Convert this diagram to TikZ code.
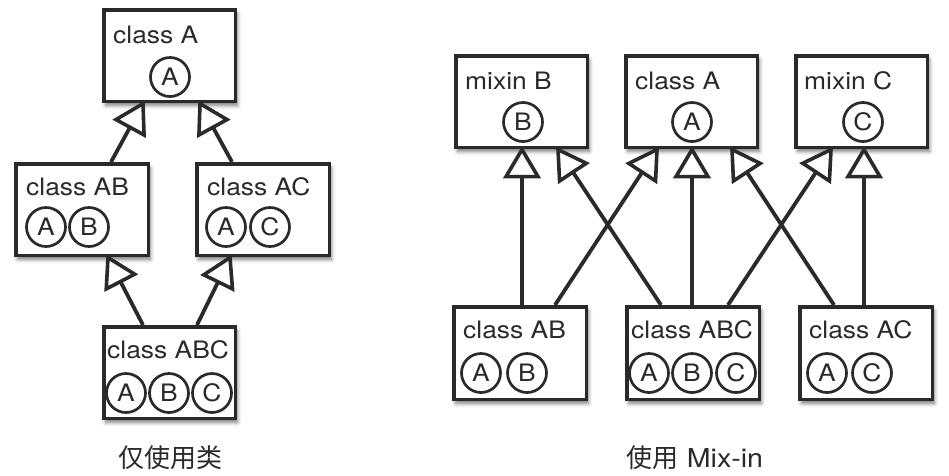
\documentclass[tikz,border=0pt]{standalone}
\usepackage{fontspec}
\setmainfont{TeX Gyre Heros}[FakeStretch=1.1]
\newfontfamily\cjk{Noto Sans CJK SC}
\usetikzlibrary{calc,shadows.blur}
\definecolor{ink}{RGB}{45,41,41}
\tikzset{
  box/.style={draw=ink, line width=3.6pt, fill=white, rectangle, inner sep=0pt,
    anchor=north west, minimum width=#1, minimum height=91.5pt,
    blur shadow={shadow xshift=2pt, shadow yshift=-4pt, shadow blur radius=4pt, shadow opacity=55}},
  lbl/.style={anchor=base west, inner sep=0pt, text=ink, font=\fontsize{24}{28}\selectfont},
  cir/.style={draw=ink, line width=2.7pt, circle, minimum size=39pt, inner sep=0pt, text=ink,
    font=\fontsize{24}{28}\selectfont},
  inhline/.style={draw=ink, line width=3.8pt},
  inhhead/.style={draw=ink, fill=white, line width=3.6pt, line join=miter},
  capt/.style={text=ink, inner sep=0pt, font=\fontsize{26}{30}\selectfont}
}
% #1 = start coordinate name, #2 = tip coordinate name
\newcommand{\inharrow}[2]{%
  \coordinate (#1-b) at ($(#2)!27pt!(#1)$);
  \draw[inhline] (#1) -- (#1-b);
  \draw[inhhead] (#2) -- ($(#1-b)!16pt!90:(#2)$) -- ($(#1-b)!16pt!-90:(#2)$) -- cycle;
}
\begin{document}
\begin{tikzpicture}[x=1pt, y=-1pt]
\useasboundingbox (0,0) rectangle (949,475);
% ---------- left diagram ----------
\node[box=131.5pt] (lA) at (102,8) {};
\node[box=132.5pt] (lAB) at (14,162) {};
\node[box=132.5pt] (lAC) at (195,162) {};
\node[box=131.5pt] (lABC) at (102,325) {};
\node[lbl] (lAt) at (113,43) {class A};
\node[cir] (lAc1) at (170,77) {A};
\node[lbl] (lABt) at (26,195) {class AB};
\node[cir] (lABc1) at (46,227) {A};
\node[cir] (lABc2) at (89,227) {B};
\node[lbl] (lACt) at (207,195) {class AC};
\node[cir] (lACc1) at (226,227) {A};
\node[cir] (lACc2) at (270,227) {C};
\node[lbl] (lABCt) at (107,358) {class ABC};
\node[cir] (lABCc1) at (126,393) {A};
\node[cir] (lABCc2) at (169,393) {B};
\node[cir] (lABCc3) at (212,393) {C};
\coordinate (s1) at ([xshift=97pt]lAB.north west);
\coordinate (t1) at ([xshift=41pt,yshift=-0.5pt]lA.south west);
\coordinate (s2) at ([xshift=37pt]lAC.north west);
\coordinate (t2) at ([xshift=98pt,yshift=-0.5pt]lA.south west);
\coordinate (s3) at ([xshift=41pt]lABC.north west);
\coordinate (t3) at ([xshift=94pt,yshift=-0.5pt]lAB.south west);
\coordinate (s4) at ([xshift=95pt]lABC.north west);
\coordinate (t4) at ([xshift=35pt,yshift=-0.5pt]lAC.south west);
\inharrow{s1}{t1}
\inharrow{s2}{t2}
\inharrow{s3}{t3}
\inharrow{s4}{t4}
\node[capt] (lcap) at (170,458) {\cjk 仅使用类};
% ---------- right diagram ----------
\node[box=131.5pt] (rB) at (454,54) {};
\node[box=131.5pt] (rA) at (624,54) {};
\node[box=131.5pt] (rC) at (794,54) {};
\node[box=132.5pt, minimum height=92.5pt] (rAB) at (452,305) {};
\node[box=132.5pt, minimum height=92.5pt] (rABC) at (625,305) {};
\node[box=132.5pt, minimum height=92.5pt] (rAC) at (798,305) {};
\node[lbl] (rBt) at (465,89) {mixin B};
\node[cir] (rBc) at (523,122) {B};
\node[lbl] (rAt) at (635,89) {class A};
\node[cir] (rAc) at (692,122) {A};
\node[lbl] (rCt) at (804,89) {mixin C};
\node[cir] (rCc) at (863,122) {C};
\node[lbl] (rABt) at (463,338) {class AB};
\node[cir] (rABc1) at (481,373) {A};
\node[cir] (rABc2) at (527,373) {B};
\node[lbl] (rABCt) at (631,338) {class ABC};
\node[cir] (rABCc1) at (649,373) {A};
\node[cir] (rABCc2) at (692,373) {B};
\node[cir] (rABCc3) at (736,373) {C};
\node[lbl] (rACt) at (809,338) {class AC};
\node[cir] (rACc1) at (827,373) {A};
\node[cir] (rACc2) at (872,373) {C};
\coordinate (s5) at ([xshift=70pt]rAB.north west);
\coordinate (t5) at ([xshift=68pt,yshift=-0.5pt]rB.south west);
\coordinate (s6) at ([xshift=103pt]rAB.north west);
\coordinate (t6) at ([xshift=33pt,yshift=-0.5pt]rA.south west);
\coordinate (s7) at ([xshift=36pt]rABC.north west);
\coordinate (t7) at ([xshift=104pt,yshift=-0.5pt]rB.south west);
\coordinate (s8) at ([xshift=67pt]rABC.north west);
\coordinate (t8) at ([xshift=68pt,yshift=-0.5pt]rA.south west);
\coordinate (s9) at ([xshift=103pt]rABC.north west);
\coordinate (t9) at ([xshift=37pt,yshift=-0.5pt]rC.south west);
\coordinate (s10) at ([xshift=36pt]rAC.north west);
\coordinate (t10) at ([xshift=108pt,yshift=-0.5pt]rA.south west);
\coordinate (s11) at ([xshift=66pt]rAC.north west);
\coordinate (t11) at ([xshift=70pt,yshift=-0.5pt]rC.south west);
\inharrow{s5}{t5}
\inharrow{s6}{t6}
\inharrow{s7}{t7}
\inharrow{s8}{t8}
\inharrow{s9}{t9}
\inharrow{s10}{t10}
\inharrow{s11}{t11}
\node[capt] (rcap) at (695,458) {{\cjk 使用} Mix-in};
\end{tikzpicture}
\end{document}
